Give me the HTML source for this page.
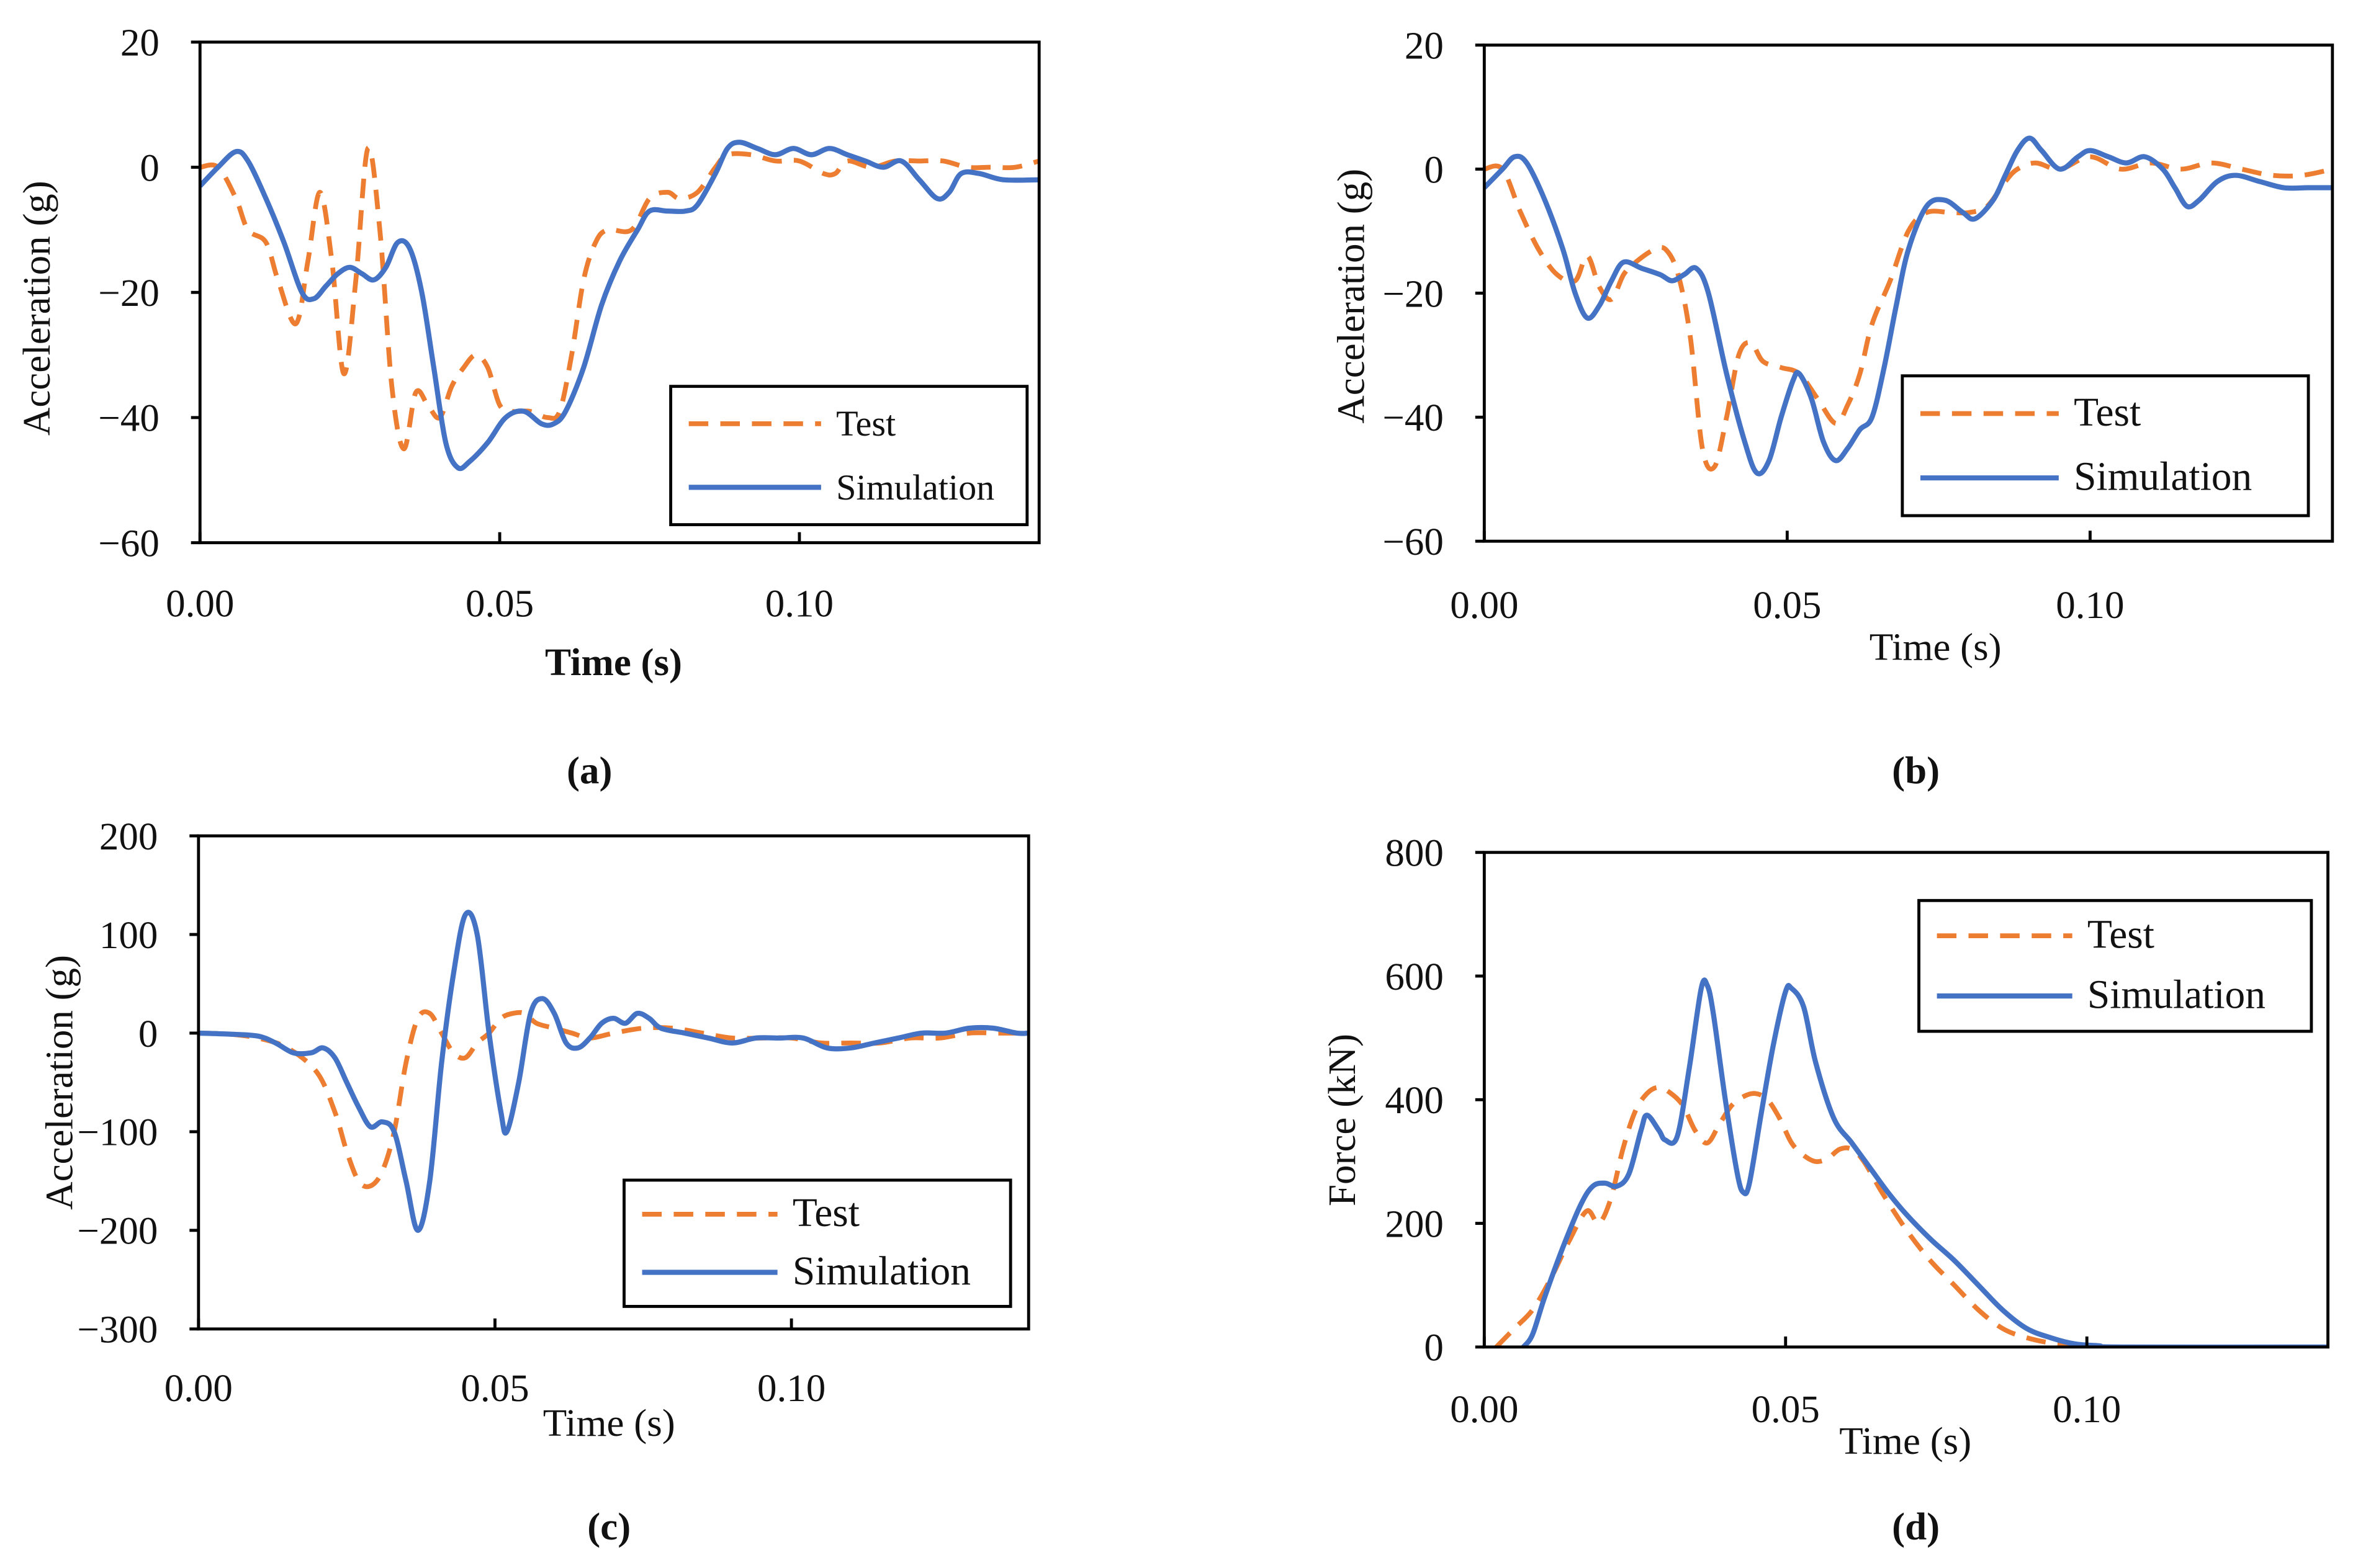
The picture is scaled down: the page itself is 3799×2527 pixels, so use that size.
<!DOCTYPE html>
<html><head><meta charset="utf-8"><style>
html,body{margin:0;padding:0;background:#fff;}
svg{display:block;}
text{font-family:"Liberation Serif",serif;fill:#111;}
</style></head><body>
<svg id="fig" width="3799" height="2527" viewBox="0 0 1568 1043" xmlns="http://www.w3.org/2000/svg"></svg>
<script>
// ---- Panel (a) data ----
const aTestT=[0,.003,.006,.008,.011,.013,.016,.018,.020,.022,.024,.026,.028,.030,.032,.034,.036,.038,.040,.042,.044,.046,.048,.050,.052,.055,.058,.060,.062,.064,.066,.068,.072,.075,.078,.080,.083,.086,.088,.092,.096,.100,.104,.106,.108,.112,.116,.120,.124,.128,.132,.136,.14];
const aTestV=[0,0,-5,-10,-12,-18,-25,-15,-4,-15,-33,-18,3,-10,-35,-45,-36,-38,-40,-35,-32,-30,-32,-38,-39,-39,-40,-39,-30,-18,-12,-10,-10,-5,-4,-5,-4,0,2,2,1,1,-1,-1,1,0,1,1,1,0,0,0,1];
const aSimT=[0,.003,.006,.008,.011,.014,.017,.019,.021,.023,.025,.027,.029,.031,.033,.035,.037,.039,.041,.043,.045,.048,.051,.054,.057,.059,.061,.064,.067,.070,.073,.075,.078,.081,.083,.086,.088,.090,.093,.096,.099,.102,.105,.108,.111,.114,.117,.120,.123,.125,.127,.130,.134,.14];
const aSimV=[-3,0,2.5,1,-5,-12,-20,-21,-19,-17,-16,-17,-18,-16,-12,-13,-20,-32,-44,-48,-47,-44,-40,-39,-41,-41,-39,-32,-22,-15,-10,-7,-7,-7,-6,-1,3,4,3,2,3,2,3,2,1,0,1,-2,-5,-4,-1,-1,-2,-2];
// ---- Panel (b) data ----
const bTestT=[0,.003,.006,.009,.012,.015,.017,.019,.021,.023,.025,.028,.030,.032,.034,.036,.038,.040,.042,.044,.046,.049,.052,.055,.058,.060,.062,.064,.067,.070,.073,.077,.080,.083,.086,.088,.091,.095,.100,.105,.110,.115,.120,.125,.130,.135,.14];
const bTestV=[0,0,-7,-13,-17,-18,-14,-19,-21,-17,-15,-13,-13,-17,-27,-45,-48,-40,-30,-28,-31,-32,-33,-37,-41,-38,-33,-25,-18,-10,-7,-7,-7,-6,-2,0,1,0,2,0,1,0,1,0,-1,-1,0];
const bSimT=[0,.003,.005,.007,.010,.013,.015,.017,.019,.021,.023,.026,.029,.031,.033,.035,.037,.040,.043,.045,.047,.049,.051,.052,.054,.056,.058,.060,.062,.064,.066,.068,.070,.073,.076,.079,.081,.084,.086,.088,.090,.092,.095,.098,.100,.103,.106,.109,.112,.114,.116,.118,.121,.124,.128,.132,.136,.14];
const bSimV=[-3,0,2,1,-5,-13,-20,-24,-22,-18,-15,-16,-17,-18,-17,-16,-20,-33,-44,-49,-47,-40,-34,-33,-37,-44,-47,-45,-42,-40,-32,-22,-13,-6,-5,-7,-8,-5,-1,3,5,3,0,2,3,2,1,2,0,-3,-6,-5,-2,-1,-2,-3,-3,-3];
// ---- Panel (c) data ----
const cTestT=[0,.005,.010,.015,.020,.023,.025,.027,.029,.031,.033,.035,.037,.039,.041,.043,.045,.047,.049,.051,.053,.055,.057,.060,.063,.066,.070,.075,.080,.085,.090,.095,.100,.105,.110,.115,.120,.125,.130,.135,.14];
const cTestV=[0,-1,-5,-15,-40,-80,-120,-150,-155,-140,-100,-30,15,20,0,-20,-25,-10,0,15,20,20,10,5,0,-5,0,5,5,0,-5,-5,-5,-10,-10,-10,-5,-5,0,0,0];
const cSimT=[0,.005,.010,.013,.016,.019,.021,.023,.025,.027,.029,.031,.033,.035,.037,.039,.041,.043,.045,.047,.049,.051,.052,.054,.056,.058,.060,.062,.064,.066,.068,.070,.072,.074,.076,.078,.082,.086,.090,.094,.098,.102,.106,.110,.114,.118,.122,.126,.130,.134,.138,.14];
const cSimV=[0,-1,-3,-10,-20,-20,-15,-25,-50,-75,-95,-90,-100,-150,-200,-150,-30,60,120,100,0,-80,-100,-50,20,35,20,-10,-15,-5,10,15,10,20,15,5,0,-5,-10,-5,-5,-5,-15,-15,-10,-5,0,0,5,5,0,0];
// ---- Panel (d) data ----
const dTestT=[.002,.005,.008,.011,.014,.017,.019,.021,.023,.025,.027,.029,.031,.033,.035,.037,.039,.041,.043,.045,.047,.049,.051,.053,.055,.057,.059,.061,.063,.066,.070,.074,.078,.082,.086,.090,.095,.100,.105,.14];
const dTestV=[0,30,60,110,170,220,200,240,320,380,410,420,410,390,350,330,360,390,405,410,400,370,330,310,300,305,320,320,300,250,190,140,100,60,30,15,5,2,0,0];
const dSimT=[.0065,.008,.010,.013,.016,.018,.020,.022,.024,.026,.027,.029,.030,.032,.034,.036,.037,.038,.040,.042,.043,.044,.046,.048,.050,.051,.053,.055,.058,.061,.064,.067,.070,.074,.078,.082,.086,.090,.094,.098,.102,.106,.14];
const dSimV=[0,20,80,160,230,260,265,260,280,350,375,350,335,340,450,580,585,540,400,280,250,265,380,490,575,580,550,460,370,330,290,250,215,175,140,100,60,30,15,5,2,0,0];

const xTicks=[0,0.05,0.10];
const xTickLabels=["0.00","0.05","0.10"];
const accTicks=[20,0,-20,-40,-60];
const accTickLabels=["20","0","\u221220","\u221240","\u221260"];
const cTicks=[200,100,0,-100,-200,-300];
const cTickLabels=["200","100","0","\u2212100","\u2212200","\u2212300"];
const dTicks=[800,600,400,200,0];
const dTickLabels=["800","600","400","200","0"];

const NS="http://www.w3.org/2000/svg";
const svg=document.getElementById('fig');
function mk(tag,attrs,parent){const e=document.createElementNS(NS,tag);for(const k in attrs)e.setAttribute(k,attrs[k]);(parent||svg).appendChild(e);return e;}
function txt(s,attrs,parent){const e=mk('text',attrs,parent);e.textContent=s;return e;}
function smooth(pts){
  let d=`M${pts[0][0]},${pts[0][1]}`;
  for(let i=0;i<pts.length-1;i++){
    const p0=pts[i-1]||pts[i],p1=pts[i],p2=pts[i+1],p3=pts[i+2]||p2;
    const c1x=p1[0]+(p2[0]-p0[0])/6,c1y=p1[1]+(p2[1]-p0[1])/6;
    const c2x=p2[0]-(p3[0]-p1[0])/6,c2y=p2[1]-(p3[1]-p1[1])/6;
    d+=`C${c1x},${c1y} ${c2x},${c2y} ${p2[0]},${p2[1]}`;
  }
  return d;
}
function panel(cfg){
  const g=mk('g',{});
  
  
  const {x0,x1,y0,y1,ymax,ymin}=cfg;
  const sx=t=>x0+(t/0.14)*(x1-x0);
  const sy=v=>y0+(ymax-v)/(ymax-ymin)*(y1-y0);
  const clip='clip-'+cfg.name;
  const cp=mk('clipPath',{id:clip},g);mk('rect',{x:x0,y:y0,width:x1-x0,height:y1-y0},cp);
  const test=mk('path',{d:smooth(cfg.tT.map((t,i)=>[sx(t),sy(cfg.tV[i])])),fill:'none',stroke:'#ED7D31','stroke-width':3.2,'stroke-dasharray':'13 8','clip-path':`url(#${clip})`},g);
  
  
  const sim=mk('path',{d:smooth(cfg.sT.map((t,i)=>[sx(t),sy(cfg.sV[i])])),fill:'none',stroke:'#4472C4','stroke-width':3.4,'clip-path':`url(#${clip})`},g);
  
  
  const fr=mk('rect',{x:x0,y:y0,width:x1-x0,height:y1-y0,fill:'none',stroke:'#000','stroke-width':2},g);
  
  
  const zeroY=y1;
  xTicks.forEach((t,i)=>{
    mk('line',{x1:sx(t),x2:sx(t),y1:zeroY,y2:zeroY-7,stroke:'#000','stroke-width':2},g);
    const l=txt(xTickLabels[i],{x:sx(t),y:cfg.xLabY,'font-size':26,'text-anchor':'middle'},g);
    
    
  });
  cfg.yTicks.forEach((v,i)=>{
    mk('line',{x1:x0-6,x2:x0,y1:sy(v),y2:sy(v),stroke:'#000','stroke-width':2},g);
    const l=txt(cfg.yLabels[i],{x:x0-27,y:sy(v)+9,'font-size':26,'text-anchor':'end'},g);
    
    
  });
  const xt=txt('Time (s)',{x:cfg.xtX,y:cfg.xtY,'font-size':26,'text-anchor':'middle','font-weight':cfg.bold?'bold':'normal'},g);
  
  
  const yt=txt(cfg.ytitle,{x:0,y:0,'font-size':26,'text-anchor':'middle',transform:`translate(${cfg.ytX},${cfg.ytY}) rotate(-90)`},g);
  
  
  const cap=txt(cfg.cap,{x:cfg.capX,y:cfg.capY,'font-size':26,'text-anchor':'middle','font-weight':'bold'},g);
  
  
  const L=cfg.leg;
  const lg=mk('g',{},g);
  
  
  mk('rect',{x:L[0],y:L[1],width:L[2]-L[0],height:L[3]-L[1],fill:'#fff',stroke:'#000','stroke-width':2},lg);
  const h=L[3]-L[1],lx=L[0]+12,lw=cfg.legLine;
  const r1=L[1]+h*0.27,r2=L[1]+h*0.73;
  mk('line',{x1:lx,x2:lx+lw,y1:r1,y2:r1,stroke:'#ED7D31','stroke-width':3.2,'stroke-dasharray':'13 8'},lg);
  mk('line',{x1:lx,x2:lx+lw,y1:r2,y2:r2,stroke:'#4472C4','stroke-width':3.4},lg);
  const e1=txt('Test',{x:lx+lw+10,y:r1+8,'font-size':cfg.legFs},lg);
  
  
  const e2=txt('Simulation',{x:lx+lw+10,y:r2+8,'font-size':cfg.legFs},lg);
  
  
}
panel({name:'panel-a',x0:133,x1:691,y0:28,y1:361,ymax:20,ymin:-60,tT:aTestT,tV:aTestV,sT:aSimT,sV:aSimV,
  yTicks:accTicks,yLabels:accTickLabels,xLabY:410,xtX:408,xtY:449,bold:true,ytitle:'Acceleration (g)',ytX:33,ytY:205,cap:'(a)',capX:392,capY:521,
  leg:[446,257,683,349],legLine:88,legFs:24});
panel({name:'panel-b',x0:987,x1:1551,y0:30,y1:360,ymax:20,ymin:-60,tT:bTestT,tV:bTestV,sT:bSimT,sV:bSimV,
  yTicks:accTicks,yLabels:accTickLabels,xLabY:411,xtX:1287,xtY:439,bold:false,ytitle:'Acceleration (g)',ytX:907,ytY:197,cap:'(b)',capX:1274,capY:521,
  leg:[1265,250,1535,343],legLine:92,legFs:27});
panel({name:'panel-c',x0:132,x1:684,y0:556,y1:884,ymax:200,ymin:-300,tT:cTestT,tV:cTestV,sT:cSimT,sV:cSimV,
  yTicks:cTicks,yLabels:cTickLabels,xLabY:932,xtX:405,xtY:955,bold:false,ytitle:'Acceleration (g)',ytX:48,ytY:720,cap:'(c)',capX:405,capY:1024,
  leg:[415,785,672,869],legLine:90,legFs:27});
panel({name:'panel-d',x0:987,x1:1548,y0:567,y1:896,ymax:800,ymin:0,tT:dTestT,tV:dTestV,sT:dSimT,sV:dSimV,
  yTicks:dTicks,yLabels:dTickLabels,xLabY:946,xtX:1267,xtY:967,bold:false,ytitle:'Force (kN)',ytX:901,ytY:745,cap:'(d)',capX:1274,capY:1024,
  leg:[1276,599,1537,686],legLine:90,legFs:27});
</script>
</body></html>
